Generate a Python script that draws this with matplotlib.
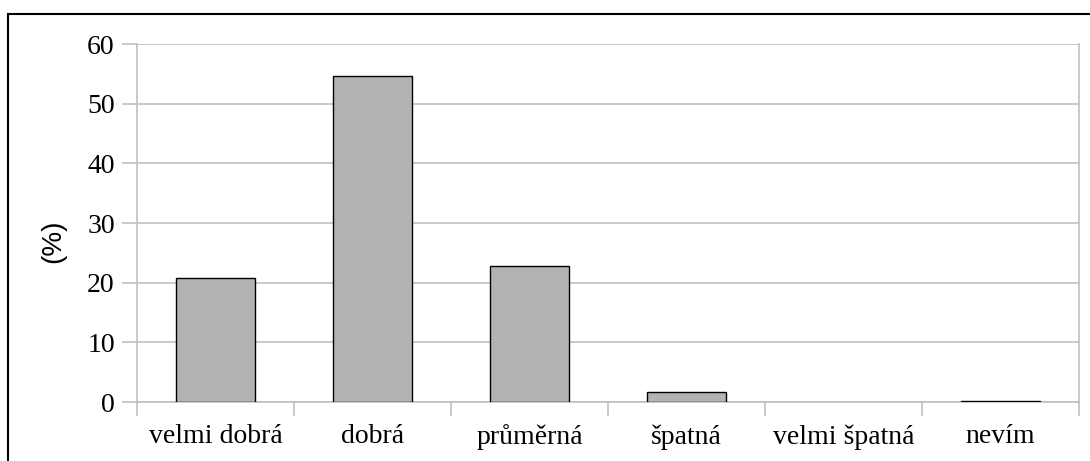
import numpy as np
import matplotlib.pyplot as plt
from matplotlib.patches import Rectangle

categories = ['velmi dobrá', 'dobrá', 'průměrná', 'špatná', 'velmi špatná', 'nevím']
values = [20.8, 54.6, 22.8, 1.75, 0.0, 0.12]

grid_col = '#c0c0c0'

fig = plt.figure(figsize=(10.9, 4.61), dpi=100)
ax = fig.add_axes([137 / 1090, 59 / 461, 942 / 1090, 358 / 461])

x = np.arange(len(categories))
bars = ax.bar(x, values, width=0.5, color='#b3b3b3', edgecolor='black', linewidth=1.0, zorder=3)
for b, v in zip(bars, values):
    if v == 0:
        b.set_edgecolor('none')

ax.set_xlim(-0.5, len(categories) - 0.5)
ax.set_ylim(0, 60)
ax.set_yticks(range(0, 61, 10))
ax.yaxis.grid(True, color=grid_col, linewidth=1.2, zorder=0)

ax.set_xticks(x)
ax.set_xticklabels(categories, family='Liberation Serif', fontsize=20)
ax.set_xticks(np.arange(-0.5, len(categories), 1), minor=True)
ax.tick_params(axis='x', which='major', length=0, pad=16)
ax.tick_params(axis='x', which='minor', length=10, width=1.2, color=grid_col)
ax.tick_params(axis='y', length=11, width=1.2, color=grid_col, pad=5)
for lab in ax.get_yticklabels():
    lab.set_family('Liberation Serif')
    lab.set_fontsize(20)

ax.spines['top'].set_visible(False)
for s in ['left', 'right', 'bottom']:
    ax.spines[s].set_color(grid_col)
    ax.spines[s].set_linewidth(1.2)

fig.text(53 / 1090, 1 - 241 / 461, '(%)', rotation=90, ha='center', va='center',
         family='Liberation Sans', fontsize=20)

# outer frame (runs off the right and bottom edge)
fig.patches.append(Rectangle((8 / 1090, -0.1), 1.2, 1 - 14 / 461 + 0.1,
                             transform=fig.transFigure, fill=False,
                             edgecolor='black', linewidth=1.5, clip_on=False))

fig.savefig('out.png', dpi=100)
